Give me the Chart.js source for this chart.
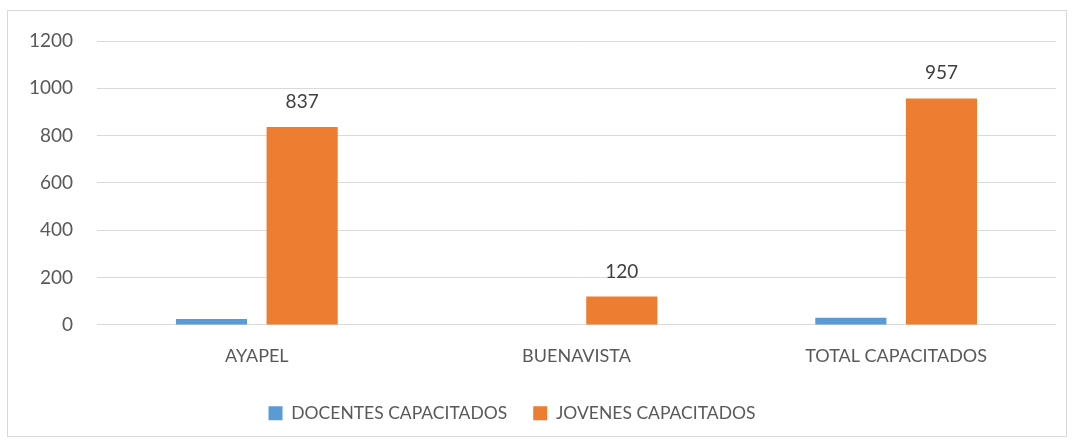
<!DOCTYPE html>
<html>
<head>
<meta charset="utf-8">
<script src="https://cdn.jsdelivr.net/npm/chart.js@4"></script>
<style>
  body { margin: 0; background: #fff; }
  #box { position: absolute; left: 7px; top: 10px; width: 1058px; height: 425px; border: 1px solid #d9d9d9; }
  canvas { display: block; }
</style>
</head>
<body>
<div id="box"><canvas id="chart"></canvas></div>
<script>
const categories = ['AYAPEL', 'BUENAVISTA', 'TOTAL CAPACITADOS'];
const docentes = [25, 0, 30];
const jovenes = [837, 120, 957];
const yTicks = [0, 200, 400, 600, 800, 1000, 1200];

const FONT = 'Lato, "Noto Sans", sans-serif';

// value labels above the orange bars only
const labelPlugin = {
    id: 'barLabels',
    afterDatasetsDraw(chart) {
        const ctx = chart.ctx;
        const meta = chart.getDatasetMeta(1);
        ctx.save();
        ctx.font = '19px ' + FONT;
        ctx.fillStyle = '#404040';
        ctx.textAlign = 'center';
        ctx.textBaseline = 'alphabetic';
        meta.data.forEach((bar, i) => {
            ctx.fillText(jovenes[i], bar.x, bar.y - 19);
        });
        ctx.restore();
    }
};

// legend sits a bit left of centre in the original
const legendShift = {
    id: 'legendShift',
    afterLayout(chart) {
        chart.legend.left -= 20;
        chart.legend.right -= 20;
    }
};

new Chart(document.getElementById('chart'), {
    type: 'bar',
    data: {
        labels: categories,
        datasets: [
            { label: 'DOCENTES CAPACITADOS', data: docentes, backgroundColor: '#5b9bd5' },
            { label: 'JOVENES CAPACITADOS', data: jovenes, backgroundColor: '#ed7d31' }
        ]
    },
    options: {
        responsive: true,
        maintainAspectRatio: false,
        animation: false,
        categoryPercentage: 0.567,
        barPercentage: 0.785,
        layout: { padding: { left: 0, right: 10, top: 30, bottom: 4 } },
        scales: {
            x: {
                grid: { display: false },
                border: { display: false },
                ticks: { color: '#595959', font: { size: 18, family: FONT }, padding: 12 }
            },
            y: {
                min: 0,
                max: 1200,
                afterBuildTicks(axis) {
                    axis.ticks = yTicks.map(v => ({ value: v }));
                },
                afterFit(axis) {
                    axis.width = 89;
                    axis.paddingTop = 0;
                },
                ticks: {
                    color: '#595959',
                    font: { size: 19, family: FONT },
                    padding: 24,
                    callback: v => String(v)
                },
                grid: { color: '#d9d9d9', drawTicks: false },
                border: { display: false }
            }
        },
        plugins: {
            legend: {
                position: 'bottom',
                labels: {
                    color: '#595959',
                    font: { size: 17.5, family: FONT },
                    boxWidth: 14,
                    boxHeight: 14,
                    padding: 26
                }
            },
            tooltip: { enabled: false }
        }
    },
    plugins: [labelPlugin, legendShift]
});
</script>
</body>
</html>
